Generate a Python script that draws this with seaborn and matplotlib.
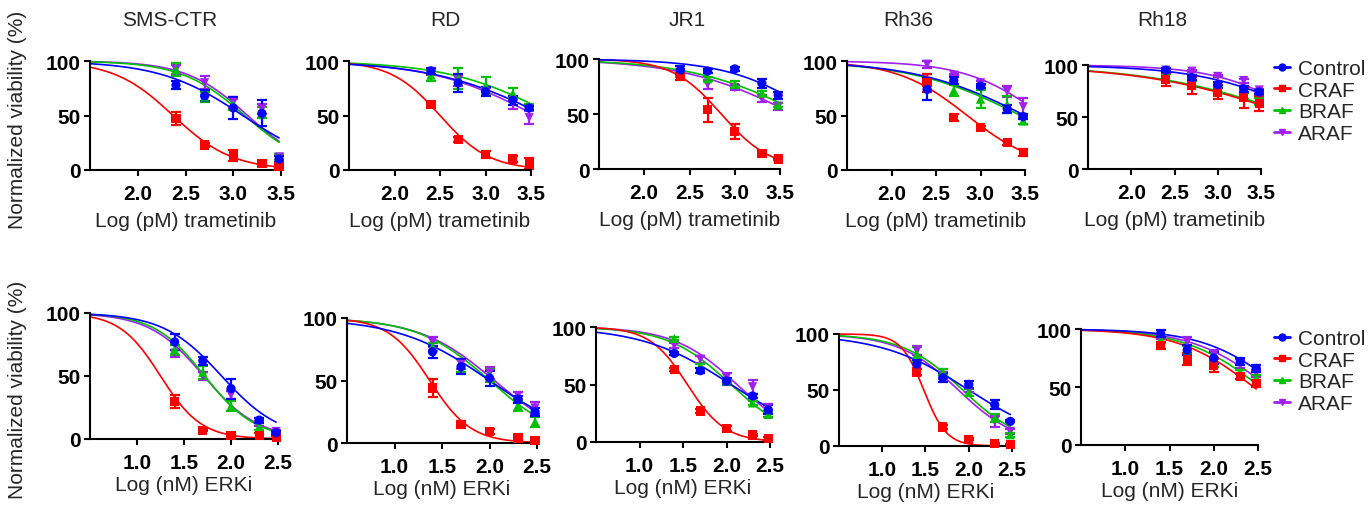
import numpy as np
import pandas as pd
import matplotlib
matplotlib.use("Agg")
import matplotlib.pyplot as plt
from matplotlib.lines import Line2D
import seaborn as sns

# cell lines (columns) and knockdown groups
cell_lines = ["SMS-CTR", "RD", "JR1", "Rh36", "Rh18"]
groups = ["Control", "CRAF", "BRAF", "ARAF"]

# doses, log scale
tram_dose = [2.4, 2.7, 3.0, 3.3, 3.48]   # log(pM) trametinib
erk_dose = [1.4, 1.7, 2.0, 2.3, 2.48]    # log(nM) ERKi

# trametinib, mean viability per cell line (rows follow cell_lines)
tram_mean = {
    "Control": [[78, 68, 57, 52, 10], [91, 80, 72, 64, 57], [90, 89, 91, 78, 67],
                [74, 82, 77, 56, 49], [95, 88, 81, 77, 74]],
    "CRAF": [[47, 23, 13, 6, 3], [60, 28, 14, 10, 6], [84, 54, 34, 14, 9],
             [80, 48, 39, 25, 16], [86, 80, 74, 69, 63]],
    "BRAF": [[92, 67, 60, 53, 12], [87, 84, 77, 70, 58], [88, 82, 77, 69, 58],
             [80, 73, 65, 60, 45], [88, 82, 76, 70, 65]],
    "ARAF": [[92, 80, 62, 56, 12], [90, 82, 72, 61, 48], [87, 77, 74, 64, 57],
             [97, 87, 80, 72, 58], [95, 94, 89, 85, 76]],
}
tram_err = {
    "Control": [[4, 5, 10, 12, 3], [3, 8, 4, 4, 2], [4, 2, 2, 4, 3],
                [10, 3, 2, 4, 2], [2, 2, 3, 3, 2]],
    "CRAF": [[6, 2, 5, 2, 2], [2, 2, 3, 3, 5], [3, 11, 7, 1, 1],
             [8, 3, 1, 2, 3], [6, 8, 7, 10, 7]],
    "BRAF": [[6, 5, 5, 5, 3], [5, 10, 8, 5, 3], [3, 2, 3, 2, 2],
             [8, 5, 8, 8, 3], [3, 3, 3, 3, 3]],
    "ARAF": [[4, 6, 5, 5, 3], [3, 5, 3, 5, 6], [3, 4, 2, 3, 3],
             [3, 1, 2, 5, 8], [1, 1, 1, 2, 1]],
}
# fitted dose-response curves (logIC50, hill slope) per cell line
tram_ic50 = {
    "Control": [3.1, 3.65, 3.9, 3.5, 4.1],
    "CRAF": [2.37, 2.5, 2.85, 2.85, 3.9],
    "BRAF": [3.12, 3.75, 3.75, 3.45, 3.95],
    "ARAF": [3.15, 3.55, 3.65, 3.7, 4.0],
}
tram_hill = {
    "Control": [1.0, 0.7, 0.9, 0.7, 0.7],
    "CRAF": [1.4, 1.6, 1.6, 1.1, 0.5],
    "BRAF": [1.3, 0.75, 0.7, 0.7, 0.5],
    "ARAF": [1.35, 0.75, 0.7, 1.0, 0.9],
}

# ERK inhibitor
erk_mean = {
    "Control": [[77, 62, 40, 15, 5], [73, 61, 52, 35, 25], [77, 62, 53, 40, 28],
                [73, 61, 55, 37, 22], [96, 82, 75, 72, 66]],
    "CRAF": [[30, 7, 3, 3, 1], [44, 15, 9, 4, 2], [63, 27, 12, 6, 3],
             [66, 17, 6, 2, 1], [86, 74, 69, 59, 53]],
    "BRAF": [[71, 53, 26, 10, 5], [77, 62, 54, 30, 17], [90, 66, 53, 34, 24],
             [82, 66, 48, 25, 10], [91, 82, 71, 63, 58]],
    "ARAF": [[68, 50, 35, 12, 6], [81, 63, 56, 38, 28], [84, 72, 56, 48, 30],
             [85, 63, 50, 22, 13], [93, 89, 78, 70, 62]],
}
erk_err = {
    "Control": [[6, 3, 8, 2, 1], [5, 6, 6, 3, 3], [1, 2, 3, 2, 4],
                [4, 4, 3, 4, 1], [3, 4, 5, 3, 3]],
    "CRAF": [[5, 1, 1, 2, 1], [7, 3, 2, 2, 1], [1, 2, 2, 1, 1],
             [3, 2, 1, 1, 1], [3, 5, 6, 2, 3]],
    "BRAF": [[4, 5, 4, 3, 1], [3, 5, 5, 4, 4], [1, 2, 2, 2, 2],
             [6, 3, 3, 4, 2], [3, 3, 4, 2, 2]],
    "ARAF": [[3, 3, 3, 2, 1], [4, 4, 5, 3, 5], [2, 3, 4, 6, 3],
             [4, 3, 2, 5, 2], [2, 4, 4, 4, 3]],
}
erk_ic50 = {
    "Control": [1.9, 2.0, 2.05, 2.0, 2.75],
    "CRAF": [1.25, 1.37, 1.55, 1.48, 2.45],
    "BRAF": [1.72, 2.0, 2.05, 1.93, 2.53],
    "ARAF": [1.71, 2.05, 2.12, 1.88, 2.62],
}
erk_hill = {
    "Control": [1.4, 0.9, 0.85, 0.85, 1.0],
    "CRAF": [2.0, 2.0, 2.0, 3.3, 1.0],
    "BRAF": [1.6, 1.15, 1.2, 1.25, 1.0],
    "ARAF": [1.5, 1.1, 1.2, 1.25, 1.0],
}

colors = {"Control": "#0000ff", "CRAF": "#ff0000", "BRAF": "#00c000", "ARAF": "#a020f0"}
markers = {"Control": "o", "CRAF": "s", "BRAF": "^", "ARAF": "v"}

W, H = 1370, 506
# axes boxes in pixels: left, right, y of 100, y of 0
top_boxes = [(90, 281, 62, 171), (349, 531, 62, 171), (599, 780, 60, 170),
             (847, 1025, 62, 171), (1088, 1261, 66, 170)]
bot_boxes = [(90, 278, 314, 440), (347, 537, 319, 444), (596, 770, 328, 443),
             (839, 1012, 335, 447), (1081, 1258, 330, 446)]
title_x = [170, 445, 687, 908, 1162]

sns.set_theme(style="ticks")
plt.rcParams["font.family"] = ["Liberation Sans", "DejaVu Sans"]

fig = plt.figure(figsize=(W / 100, H / 100), dpi=100)


def four_pl(x, ic50, hill):
    return 100.0 / (1 + 10 ** ((x - ic50) * hill))


def draw_panel(box, dose, mean, err, ic50, hill, i, xmin, ticks, xlabel, lpad):
    l, r, y100, y0 = box
    ax = fig.add_axes([l / W, 1 - y0 / H, (r - l) / W, (y0 - y100) / H])
    xs = np.linspace(xmin, dose[-1], 200)
    curves = pd.concat([
        pd.DataFrame({"x": xs, "y": four_pl(xs, ic50[g][i], hill[g][i]), "group": g})
        for g in groups[::-1]
    ])
    sns.lineplot(data=curves, x="x", y="y", hue="group", palette=colors,
                 linewidth=1.2, legend=False, ax=ax, clip_on=False)
    for g in groups[::-1]:
        ax.errorbar(dose, mean[g][i], yerr=err[g][i], fmt="none", ecolor=colors[g],
                    elinewidth=1.6, capsize=3.5, capthick=1.6, clip_on=False)
    pts = pd.concat([
        pd.DataFrame({"x": dose, "y": mean[g][i], "group": g}) for g in groups[::-1]
    ])
    sns.scatterplot(data=pts, x="x", y="y", hue="group", style="group",
                    palette=colors, markers=markers, s=44, edgecolor="none",
                    legend=False, ax=ax, clip_on=False, zorder=3)
    ax.set_xlim(xmin, ticks[-1])
    ax.set_ylim(0, 100)
    ax.set_xticks(ticks)
    ax.set_xticklabels([f"{t:.1f}" for t in ticks], fontweight="bold", fontsize=15)
    ax.set_yticks([0, 50, 100])
    ax.set_yticklabels(["0", "50", "100"], fontweight="bold", fontsize=15)
    ax.tick_params(axis="x", length=4, width=1.5, pad=6, colors="black")
    ax.tick_params(axis="y", length=4, width=1.5, pad=3, colors="black")
    ax.set_xlabel(xlabel, fontsize=15, labelpad=lpad)
    ax.set_ylabel("")
    for s in ["left", "bottom"]:
        ax.spines[s].set_linewidth(1.5)
        ax.spines[s].set_color("black")
    sns.despine(ax=ax)
    return ax


for i, name in enumerate(cell_lines):
    ax_t = draw_panel(top_boxes[i], tram_dose, tram_mean, tram_err, tram_ic50, tram_hill,
                      i, 1.5, [2.0, 2.5, 3.0, 3.5], "Log (pM) trametinib", 6)
    ax_b = draw_panel(bot_boxes[i], erk_dose, erk_mean, erk_err, erk_ic50, erk_hill,
                      i, 0.5, [1.0, 1.5, 2.0, 2.5], "Log (nM) ERKi", 2)
    fig.text(title_x[i] / W, 1 - 21 / H, name, fontsize=15, ha="center", va="center")

for yc in [120, 390]:
    fig.text(18 / W, 1 - yc / H, "Normalized viability (%)", fontsize=15,
             rotation=90, ha="center", va="center")

handles = [Line2D([], [], color=colors[g], marker=markers[g], markersize=5,
                  linewidth=2) for g in groups]
for yc in [102, 372]:
    fig.legend(handles, groups, loc="center left", bbox_to_anchor=(1274 / W, 1 - yc / H),
               frameon=False, fontsize=15, handlelength=0.75, handletextpad=0.4,
               labelspacing=0.13, borderpad=0, borderaxespad=0)

fig.savefig("out.png", dpi=100)
